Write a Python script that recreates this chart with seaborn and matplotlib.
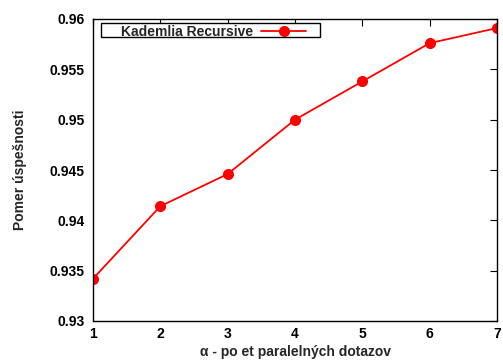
import matplotlib
matplotlib.use("Agg")
import matplotlib.pyplot as plt
from matplotlib.patches import Rectangle
import seaborn as sns
import pandas as pd

# Success ratio of recursive Kademlia lookups vs. number of parallel queries
alpha = [1, 2, 3, 4, 5, 6, 7]
success = [0.9342, 0.9414, 0.9446, 0.9500, 0.9538, 0.9576, 0.9591]
x_ticks = [1, 2, 3, 4, 5, 6, 7]
y_ticks = [0.93, 0.935, 0.94, 0.945, 0.95, 0.955, 0.96]
y_tick_labels = ["0.93", "0.935", "0.94", "0.945", "0.95", "0.955", "0.96"]
series_name = "Kademlia Recursive"

sns.set_style("white")
plt.rcParams["font.family"] = ["Liberation Sans", "DejaVu Sans"]
plt.rcParams["font.weight"] = "bold"

df = pd.DataFrame({"alpha": alpha, "success": success, "series": series_name})

fig = plt.figure(figsize=(5.03, 3.64), dpi=100)
ax = fig.add_axes([93 / 503, 1 - 321 / 364, (497 - 93) / 503, (321 - 19) / 364])

sns.lineplot(data=df, x="alpha", y="success", hue="series", palette=["#ff0000"],
             marker="o", markersize=8, markeredgewidth=0, linewidth=1.3, ax=ax)

ax.set_xlim(1, 7)
ax.set_ylim(0.93, 0.96)
ax.set_xticks(x_ticks)
ax.set_xticklabels([str(v) for v in x_ticks])
ax.set_yticks(y_ticks)
ax.set_yticklabels(y_tick_labels)
ax.tick_params(direction="in", length=5, width=0.8, top=True, right=True,
               labelsize=10, colors="black")
ax.tick_params(axis="x", pad=4)
ax.tick_params(axis="y", pad=6)
for lbl in ax.get_xticklabels() + ax.get_yticklabels():
    lbl.set_fontweight("bold")
for sp in ax.spines.values():
    sp.set_color("black")
    sp.set_linewidth(1.0)

ax.set_xlabel("α - po et paralelných dotazov", fontsize=10, fontweight="bold", labelpad=3)
ax.set_ylabel("Pomer úspešnosti", fontsize=10, fontweight="bold", labelpad=16)

# key box in the top-left corner, gnuplot style
ax.add_patch(Rectangle((0.0198, 0.940), 0.542, 0.0464, transform=ax.transAxes,
                       facecolor="white", edgecolor="black", linewidth=1.0,
                       zorder=4, clip_on=False))
leg = ax.legend(loc="center left", bbox_to_anchor=(0.069, 0.958), markerfirst=False,
                frameon=False, fontsize=10, handlelength=3.3,
                borderpad=0.0, handletextpad=0.55, borderaxespad=0.0)
leg.set_zorder(5)
for t in leg.get_texts():
    t.set_fontweight("bold")

fig.savefig("out.png", dpi=100)
